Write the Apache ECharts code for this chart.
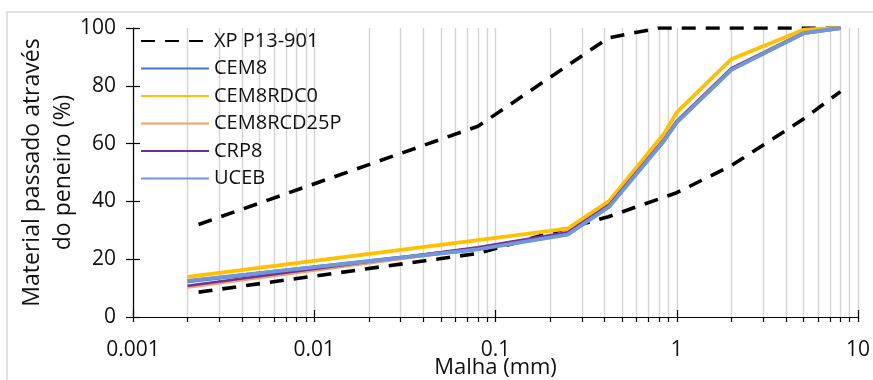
<!DOCTYPE html>
<html>
<head>
<meta charset="utf-8">
<script src="https://cdn.jsdelivr.net/npm/echarts@6/dist/echarts.min.js"></script>
<style>
  html, body { margin: 0; padding: 0; background: #fff; }
  #chart { width: 873px; height: 380px; }
</style>
</head>
<body>
<div id="chart"></div>
<script>
// sieve sizes (mm) of the measured curves
const sizes = [0.002, 0.08, 0.25, 0.425, 0.85, 1, 2, 5, 8];
const cem8 = [12.3, 23.6, 28.7, 38.5, 61.0, 67.4, 85.6, 98.2, 100];
const cem8rdc0 = [13.9, 26.6, 30.6, 40.2, 63.4, 70.8, 89.2, 99.4, 100];
const cem8rcd25p = [10.4, 23.8, 29.0, 38.7, 61.3, 67.7, 85.9, 98.3, 100];
const crp8 = [10.8, 24.1, 29.3, 38.9, 61.5, 67.8, 86.0, 98.3, 100];
const uceb = [12.5, 23.4, 28.5, 38.2, 61.0, 67.3, 85.5, 98.2, 100];

// XP P13-901 envelope
const xpUpperX = [0.0023, 0.08, 0.42, 0.8, 8];
const xpUpperY = [32, 66, 96.6, 100, 100];
const xpLowerX = [0.0023, 0.08, 0.42, 1, 2, 5, 8];
const xpLowerY = [8.6, 22, 34.7, 43, 52.4, 68.5, 78];

const yTicks = [0, 20, 40, 60, 80, 100];

const FONT = "Open Sans";
const GRID_COLOR = "#d4d4d4";

const pairs = (xs, ys) => xs.map((x, i) => [x, ys[i]]);

// log-space positions of the 1..9 x 10^k grid lines
const logGrid = [];
for (let d = -3; d <= 0; d++) {
    for (let k = 1; k <= 9; k++) logGrid.push(Math.log10(k * Math.pow(10, d)));
}
logGrid.push(1);

const chart = echarts.init(document.getElementById("chart"));

const dashed = { color: "#000", width: 3.6, type: [14, 10] };
const tickStyle = { color: "#000", width: 1.2 };

chart.setOption({
    animation: false,
    backgroundColor: "#fff",
    textStyle: { fontFamily: FONT },
    graphic: [{
        type: "rect",
        shape: { x: 7, y: 12, width: 900, height: 400 },
        style: { fill: "none", stroke: "#d9d9d9", lineWidth: 1.5 },
        silent: true,
    }],
    grid: { left: 133, right: 15, top: 28, bottom: 63, outerBoundsMode: "none" },
    legend: {
        orient: "vertical",
        left: 135,
        top: 26,
        itemWidth: 68,
        itemHeight: 14,
        itemGap: 7.5,
        itemStyle: { opacity: 0 },
        textStyle: { fontFamily: FONT, fontSize: 20, color: "#111", lineHeight: 20 },
        data: ["XP P13-901", "CEM8", "CEM8RDC0", "CEM8RCD25P", "CRP8", "UCEB"],
    },
    xAxis: [
        {
            type: "log",
            logBase: 10,
            min: 0.001,
            max: 10,
            name: "Malha (mm)",
            nameLocation: "middle",
            nameGap: 40,
            nameMoveOverlap: false,
            nameTextStyle: { fontFamily: FONT, fontSize: 22, color: "#111" },
            axisLine: { onZero: false, lineStyle: { color: "#000", width: 1.2 } },
            axisTick: { show: true, inside: true, length: 7, lineStyle: tickStyle },
            axisLabel: { fontFamily: FONT, fontSize: 21, color: "#111", margin: 23 },
            splitLine: { show: false },
        },
        {
            type: "value",
            min: -3,
            max: 1,
            position: "bottom",
            axisLine: { show: false, onZero: false },
            axisTick: { show: true, customValues: logGrid, length: 5, lineStyle: tickStyle },
            axisLabel: { show: false },
            splitLine: { show: true, lineStyle: { color: GRID_COLOR, width: 1.4 } },
        },
    ],
    yAxis: [
        {
            type: "value",
            min: 0,
            max: 100,
            interval: 20,
            name: "Material passado através\ndo peneiro (%)",
            nameLocation: "middle",
            nameGap: 54,
            nameMoveOverlap: false,
            nameTextStyle: { fontFamily: FONT, fontSize: 23, color: "#111", lineHeight: 31 },
            axisLine: { show: true, onZero: false, lineStyle: { color: "#000", width: 1.2 } },
            axisTick: { show: true, length: 7, lineStyle: tickStyle },
            axisLabel: {
                fontFamily: FONT, fontSize: 21, color: "#111", margin: 17,
                customValues: yTicks,
            },
            splitLine: { show: false },
        },
        {
            type: "value",
            min: 0,
            max: 100,
            interval: 20,
            position: "left",
            axisLine: { show: false, onZero: false },
            axisTick: { show: true, inside: true, length: 7, lineStyle: tickStyle },
            axisLabel: { show: false },
            splitLine: { show: false },
        },
    ],
    series: [
        {
            name: "XP P13-901", type: "line", symbol: "none",
            lineStyle: dashed, itemStyle: { color: "#000" },
            data: pairs(xpUpperX, xpUpperY),
        },
        {
            name: "XP P13-901", type: "line", symbol: "none",
            lineStyle: dashed, itemStyle: { color: "#000" },
            data: pairs(xpLowerX, xpLowerY),
        },
        {
            name: "CEM8", type: "line", symbol: "none",
            lineStyle: { color: "#4472C4", width: 3.8 }, itemStyle: { color: "#4472C4" },
            data: pairs(sizes, cem8),
        },
        {
            name: "CEM8RDC0", type: "line", symbol: "none",
            lineStyle: { color: "#FFC000", width: 3.8 }, itemStyle: { color: "#FFC000" },
            data: pairs(sizes, cem8rdc0),
        },
        {
            name: "CEM8RCD25P", type: "line", symbol: "none",
            lineStyle: { color: "#F4A064", width: 3.8 }, itemStyle: { color: "#F4A064" },
            data: pairs(sizes, cem8rcd25p),
        },
        {
            name: "CRP8", type: "line", symbol: "none",
            lineStyle: { color: "#7030A0", width: 2.5 }, itemStyle: { color: "#7030A0" },
            data: pairs(sizes, crp8),
        },
        {
            name: "UCEB", type: "line", symbol: "none",
            lineStyle: { color: "#7197D8", width: 3.8 }, itemStyle: { color: "#7197D8" },
            data: pairs(sizes, uceb),
        },
    ],
});
</script>
</body>
</html>
